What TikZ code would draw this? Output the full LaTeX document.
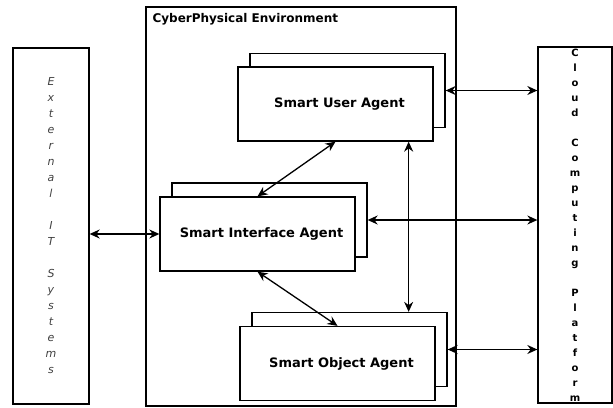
\documentclass[tikz,border=0pt]{standalone}
\usepackage{fontspec}
\setmainfont{DejaVu Sans}
\usepackage{tikz}
\usetikzlibrary{arrows.meta}

\begin{document}
\begin{tikzpicture}[
            x=1pt, y=-1pt,
            outer/.style={rectangle, draw=black, line width=1.3pt, inner sep=0pt},
            agent/.style={rectangle, draw=black, fill=white, line width=1.3pt,
                          minimum width=195pt, minimum height=74pt, font=\fontsize{13}{15}\selectfont\bfseries},
            arrow/.style={{Stealth[length=10pt,width=9pt]}-{Stealth[length=10pt,width=9pt]}, line width=1.3pt}
        ]
            \useasboundingbox (0,0) rectangle (613,407);

            % outer boxes
            \node[outer, minimum width=310pt, minimum height=399pt] (env) at (301,206.5) {};
            \node[anchor=base west, font=\fontsize{12}{14}\selectfont\bfseries] (envtitle) at (149,22) {CyberPhysical Environment};
            \node[outer, minimum width=76pt, minimum height=356pt, align=center, text=black!75,
                  font=\fontsize{11}{16}\selectfont\itshape] (ext) at (51,226)
                {E\\x\\t\\e\\r\\n\\a\\l\\~\\I\\T\\~\\S\\y\\s\\t\\e\\m\\s};
            \node[outer, minimum width=74pt, minimum height=356pt, align=center,
                  font=\fontsize{10}{15}\selectfont\bfseries] (cloud) at (575,225)
                {C\\l\\o\\u\\d\\~\\C\\o\\m\\p\\u\\t\\i\\n\\g\\~\\P\\l\\a\\t\\f\\o\\r\\m};

            % agents (stacked)
            \node[agent] (userback) at (347.5,90.5) {};
            \node[agent] (user) at (335.5,104) {\hspace*{8pt}Smart User Agent};
            \node[agent] (ifaceback) at (269.5,220) {};
            \node[agent] (iface) at (257.5,234) {\hspace*{8pt}Smart Interface Agent};
            \node[agent] (objback) at (349.5,349.5) {};
            \node[agent] (obj) at (337.5,363.5) {\hspace*{8pt}Smart Object Agent};

            \draw[arrow] (user.south) -- (iface.north);
            \draw[arrow] (iface.south) -- (obj.north);
            \draw[arrow] ([xshift=-25pt]user.south east) -- ([xshift=-25pt]user.south east |- objback.north);
            \draw[arrow] (ext.east |- iface.west) -- (iface.west);
            \draw[arrow] (userback.east) -- (userback.east -| cloud.west);
            \draw[arrow] (ifaceback.east) -- (ifaceback.east -| cloud.west);
            \draw[arrow] (objback.east) -- (objback.east -| cloud.west);
        \end{tikzpicture}
\end{document}
